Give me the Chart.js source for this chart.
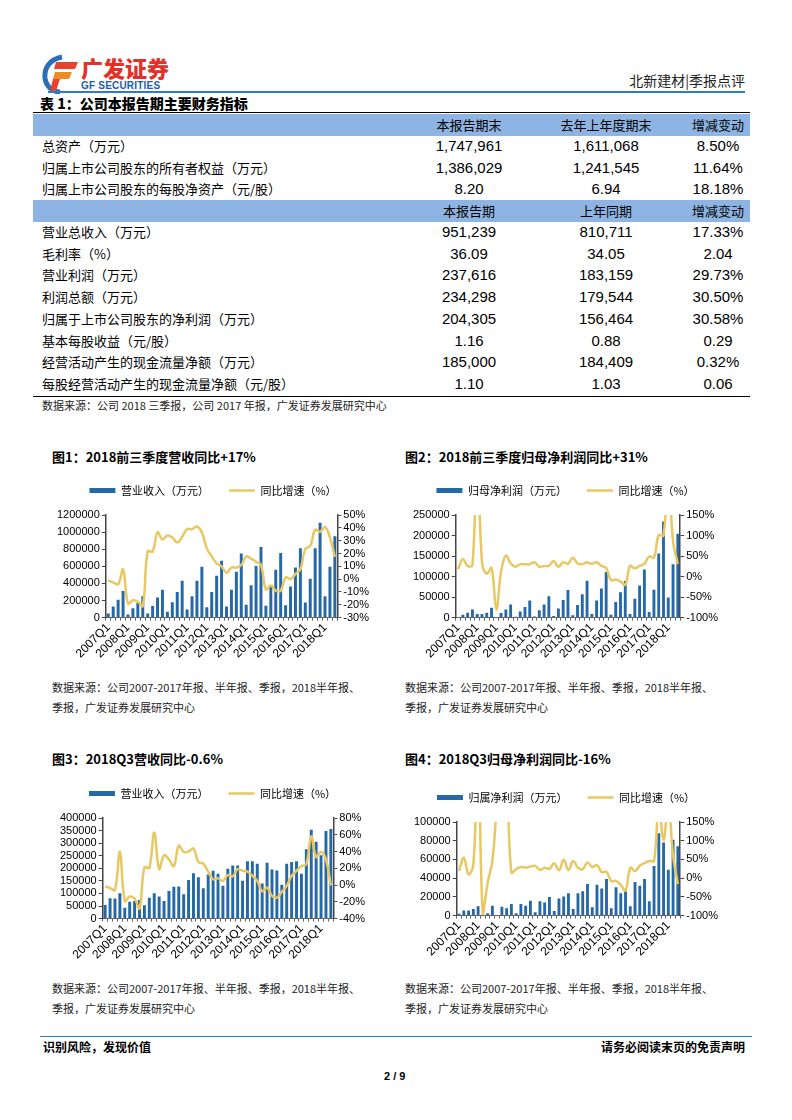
<!DOCTYPE html>
<html>
<head>
<meta charset="utf-8">
<script src="https://cdn.jsdelivr.net/npm/chart.js@4.4.0/dist/chart.umd.min.js"></script>
<style>
body { margin: 0; background: #fff; }
#page { position: relative; width: 792px; height: 1120px; overflow: hidden; font-family: "Noto Sans CJK SC", sans-serif; color: #000; }
.t { position: absolute; white-space: nowrap; line-height: 1; }
.num { font-family: "Liberation Sans Narrow", "Liberation Sans", sans-serif; font-size: 15px; transform: translateX(-50%); }
.lbl { font-size: 13px; left: 42px; }
.band { position: absolute; left: 33px; width: 717px; height: 22px; background: #8DB4E2; }
.hline { position: absolute; height: 0; }
.ctitle { font-size: 13px; font-weight: bold; }
.src { font-size: 11px; color: #222; }
canvas { position: absolute; }
</style>
</head>
<body>
<div id="page">
  <!-- header -->
  <svg class="t" style="left:42px;top:54px" width="40" height="40" viewBox="0 0 40 40">
    <path d="M20 3 C8 5 2 14 3 24 C4 32 10 38 18 38" fill="none" stroke="#2A6FB8" stroke-width="5"/>
    <path d="M14 8 L36 8 L33 15 L12 15 Z" fill="#E8412C"/>
    <path d="M13 18 L30 18 L27 25 L11 25 Z" fill="#F08A24"/>
    <path d="M11 25 L18 25 L14 37 L8 37 Z" fill="#E8412C"/>
  </svg>
  <div class="t" style="left:81px;top:56px;font-size:22px;font-weight:900;color:#E2302A">广发证券</div>
  <div class="t" style="left:81px;top:81px;font-size:10px;font-weight:bold;color:#1D5EA8;font-family:'Liberation Sans',sans-serif;letter-spacing:0.2px">GF SECURITIES</div>
  <div class="t" style="right:47px;top:73px;font-size:14px;color:#222">北新建材|季报点评</div>
  <div class="hline" style="left:48px;width:697px;top:91px;border-top:2px solid #2D7CC8"></div>

  <div class="t" style="left:40px;top:96px;font-size:14px;font-weight:900">表 1：公司本报告期主要财务指标</div>
  <div id="table"></div>

  <!-- charts -->
  <div class="t ctitle" style="left:52px;top:450px">图1：2018前三季度营收同比+17%</div>
  <div class="t ctitle" style="left:405px;top:450px">图2：2018前三季度归母净利润同比+31%</div>
  <canvas id="c1" width="318" height="196" style="left:55px;top:465px"></canvas>
  <canvas id="c2" width="311" height="196" style="left:411px;top:465px"></canvas>
  <div class="t src" style="left:52px;top:682px">数据来源：公司2007-2017年报、半年报、季报，2018半年报、</div>
  <div class="t src" style="left:52px;top:702px">季报，广发证券发展研究中心</div>
  <div class="t src" style="left:405px;top:682px">数据来源：公司2007-2017年报、半年报、季报，2018半年报、</div>
  <div class="t src" style="left:405px;top:702px">季报，广发证券发展研究中心</div>

  <div class="t ctitle" style="left:52px;top:752px">图3：2018Q3营收同比-0.6%</div>
  <div class="t ctitle" style="left:405px;top:752px">图4：2018Q3归母净利润同比-16%</div>
  <canvas id="c3" width="311" height="194" style="left:58px;top:768px"></canvas>
  <canvas id="c4" width="310" height="187" style="left:412px;top:772px"></canvas>
  <div class="t src" style="left:52px;top:983px">数据来源：公司2007-2017年报、半年报、季报，2018半年报、</div>
  <div class="t src" style="left:52px;top:1003px">季报，广发证券发展研究中心</div>
  <div class="t src" style="left:405px;top:983px">数据来源：公司2007-2017年报、半年报、季报，2018半年报、</div>
  <div class="t src" style="left:405px;top:1003px">季报，广发证券发展研究中心</div>

  <!-- footer -->
  <div class="hline" style="left:40px;width:712px;top:1036px;border-top:1px solid #2D7CC8"></div>
  <div class="t" style="left:43px;top:1041px;font-size:12px;font-weight:bold">识别风险，发现价值</div>
  <div class="t" style="right:47px;top:1041px;font-size:12px;font-weight:bold">请务必阅读末页的免责声明</div>
  <div class="t" style="left:384px;top:1071px;font-size:11px;font-weight:bold;font-family:'Liberation Sans',sans-serif">2 / 9</div>
</div>

<script>
// ---- table data ----
const head1 = ['本报告期末', '去年上年度期末', '增减变动'];
const rows1 = ['总资产（万元）', '归属上市公司股东的所有者权益（万元）', '归属上市公司股东的每股净资产（元/股）'];
const cur1 = ['1,747,961', '1,386,029', '8.20'];
const prev1 = ['1,611,068', '1,241,545', '6.94'];
const chg1 = ['8.50%', '11.64%', '18.18%'];

const head2 = ['本报告期', '上年同期', '增减变动'];
const rows2 = ['营业总收入（万元）', '毛利率（%）', '营业利润（万元）', '利润总额（万元）',
  '归属于上市公司股东的净利润（万元）', '基本每股收益（元/股）',
  '经营活动产生的现金流量净额（万元）', '每股经营活动产生的现金流量净额（元/股）'];
const cur2 = ['951,239', '36.09', '237,616', '234,298', '204,305', '1.16', '185,000', '1.10'];
const prev2 = ['810,711', '34.05', '183,159', '179,544', '156,464', '0.88', '184,409', '1.03'];
const chg2 = ['17.33%', '2.04', '29.73%', '30.50%', '30.58%', '0.29', '0.32%', '0.06'];

// ---- chart data ----
const quarters = [
  '2007Q1', '2007Q2', '2007Q3', '2007Q4', '2008Q1', '2008Q2', '2008Q3', '2008Q4',
  '2009Q1', '2009Q2', '2009Q3', '2009Q4', '2010Q1', '2010Q2', '2010Q3', '2010Q4',
  '2011Q1', '2011Q2', '2011Q3', '2011Q4', '2012Q1', '2012Q2', '2012Q3', '2012Q4',
  '2013Q1', '2013Q2', '2013Q3', '2013Q4', '2014Q1', '2014Q2', '2014Q3', '2014Q4',
  '2015Q1', '2015Q2', '2015Q3', '2015Q4', '2016Q1', '2016Q2', '2016Q3', '2016Q4',
  '2017Q1', '2017Q2', '2017Q3', '2017Q4', '2018Q1', '2018Q2', '2018Q3'
];

// fig1: cumulative revenue (万元) and yoy (%)
const revCum = [
  48000, 130000, 210000, 310000, 37000, 110000, 170000, 250000,
  48000, 135000, 235000, 325000, 70000, 180000, 300000, 430000,
  95000, 250000, 430000, 595000, 120000, 300000, 490000, 665000,
  130000, 325000, 535000, 750000, 150000, 380000, 605000, 825000,
  140000, 360000, 560000, 755000, 145000, 365000, 585000, 812000,
  178000, 455000, 810711, 1110000, 250000, 595000, 951239
];
const revCumYoy = [
  -1, -2.5, -4, 7.5, -19, -16.5, -17.5, -21,
  21.7, 21.5, 36.5, 31, 34, 32.5, 28.5, 33,
  39, 39, 41, 36.5, 24, 17.7, 12.3, 10,
  5, 9, 9, 11, 17.7, 16, 13.6, 11,
  -8, -5, -9, -9, 1.5, 0, 4, 7.7,
  23.6, 25.8, 38.5, 37, 40.5, 32.5, 17.33
];

// fig2: cumulative net profit attributable (万元) and yoy (%)
const npCum = [
  1000, 7000, 12000, 20000, 9000, 9000, 12000, 24000,
  1500, 11000, 20000, 32000, 2000, 15000, 26000, 42000,
  3000, 18000, 32000, 52000, 4000, 22000, 43000, 67000,
  6000, 31000, 57000, 90000, 9000, 42000, 71000, 111000,
  7000, 38000, 62000, 89000, 9000, 46000, 78000, 117000,
  14000, 68000, 156464, 234000, 49000, 130000, 204305
];
const npCumYoy = [
  18, 43, 26, 28, 300, 36, 7, 21,
  -80, 12, 51, 32, 24, 30, 30, 30,
  35, 24, 26, 26, 38, 24, 35, 31,
  46, 32, 30, 35, 31, 35, 26, 21,
  -9, -7, -12, -20, 26, 20, 26, 31,
  49, 46, 101, 100, 250, 86, 30.58
];

// fig3: single-quarter revenue (万元) and yoy (%)
const revQ = [
  54000, 81000, 80000, 101000, 43000, 67000, 70000, 74000,
  53000, 83000, 101000, 88000, 70000, 110000, 127000, 128000,
  97000, 154000, 180000, 164000, 121000, 175000, 190000, 178000,
  131000, 198000, 211000, 211000, 151000, 228000, 228000, 218000,
  140000, 222000, 195000, 191000, 135000, 218000, 225000, 228000,
  178000, 276000, 353000, 306000, 252000, 348000, 356000
];
const revQYoy = [
  -1.6, -3.6, -5.7, 39.6, -19, -13.7, -16, -28,
  21, 20.6, 62.6, 19, 35.5, 30.7, 22.6, 47,
  39.6, 40, 43.6, 27.5, 25.5, 16, 7, 8,
  5, 12, 10.5, 19, 17, 16, 11, 5,
  -7.5, -3, -13, -15, -8, -1, 11, 17,
  22.6, 25, 58, 33.5, 39.6, 30.7, -0.6
];

// fig4: single-quarter net profit attributable (万元) and yoy (%)
const npQ = [
  2000, 5500, 5500, 7000, 10000, 1000, 2500, 10600,
  500, 9500, 8000, 12500, 2500, 12500, 10600, 16000,
  3700, 15400, 14000, 20000, 5000, 18300, 20500, 24000,
  7000, 24000, 26000, 33700, 9000, 33000, 29000, 39000,
  8000, 30400, 24000, 26700, 10000, 36000, 32000, 39000,
  15400, 53000, 88000, 78000, 49000, 81000, 74000
];
const npQYoy = [
  19, 55, 10, 37, 320, -96, -13, 46,
  200, 300, 250, 15, 24, 30, 28, 31,
  33, 22, 28, 25, 40, 21, 49, 22,
  46, 28, 24, 42, 30, 35, 16, 17,
  -8, -7, -18, -33, 28, 19, 33, 40,
  46, 46, 200, 101, 200, 60, -16
];

// ---- build table ----
const table = document.getElementById('table');
const colX = [469, 606, 718];

function addText(txt, cls, left, top) {
  const d = document.createElement('div');
  d.className = 't ' + cls;
  d.textContent = txt;
  if (left !== null) d.style.left = left + 'px';
  d.style.top = top + 'px';
  table.appendChild(d);
}

function addBand(top, heads) {
  const b = document.createElement('div');
  b.className = 'band';
  b.style.top = top + 'px';
  table.appendChild(b);
  heads.forEach((h, i) => {
    const d = document.createElement('div');
    d.className = 't';
    d.style.cssText = `left:${colX[i]}px;top:${top + 4}px;font-size:13px;transform:translateX(-50%)`;
    d.textContent = h;
    table.appendChild(d);
  });
}

function addRows(top, labels, a, b, c) {
  labels.forEach((l, i) => {
    const y = top + i * 21.7;
    addText(l, 'lbl', null, y);
    [a, b, c].forEach((col, j) => addText(col[i], 'num', colX[j], y - 1));
  });
}

function addRule(top) {
  const r = document.createElement('div');
  r.className = 'hline';
  r.style.cssText = `left:33px;width:717px;top:${top}px;border-top:1.5px solid #000`;
  table.appendChild(r);
}

addRule(112);
addBand(114, head1);
addRows(139, rows1, cur1, prev1, chg1);
addBand(200, head2);
addRows(225, rows2, cur2, prev2, chg2);
addRule(396);
addText('数据来源：公司 2018 三季报，公司 2017 年报，广发证券发展研究中心', 'src', 42, 400);

// ---- charts ----
const BAR_COLOR = '#2468A8';
const LINE_COLOR = '#E8C862';
const TICK_FONT = { family: '"Liberation Sans"', size: 11 };

// push the plot area down a little below the legend
const legendGap = {
  id: 'legendGap',
  beforeInit(chart, args, opts) {
    const fit = chart.legend.fit;
    chart.legend.fit = function () {
      fit.bind(chart.legend)();
      this.height += opts.gap || 0;
    };
  }
};

function makeChart(id, bars, line, barLabel, yMax, yStep, rMin, rMax, rStep) {
  const ctx = document.getElementById(id);
  return new Chart(ctx, {
    type: 'bar',
    data: {
      labels: quarters,
      datasets: [{
        type: 'bar',
        label: barLabel,
        data: bars,
        backgroundColor: BAR_COLOR,
        barPercentage: 0.6,
        categoryPercentage: 1,
        pointStyle: 'rect',
        yAxisID: 'y',
        order: 1
      }, {
        type: 'line',
        label: '同比增速（%）',
        data: line,
        borderColor: LINE_COLOR,
        backgroundColor: LINE_COLOR,
        borderWidth: 2.5,
        pointRadius: 0,
        pointStyle: 'line',
        tension: 0.4,
        yAxisID: 'y1',
        order: 0
      }]
    },
    options: {
      responsive: false,
      animation: false,
      layout: { padding: { left: 0, right: 2, top: 0, bottom: 0 } },
      plugins: {
        legend: {
          position: 'top',
          labels: {
            usePointStyle: true,
            pointStyleWidth: 26,
            boxHeight: 5,
            padding: 20,
            color: '#000',
            font: { family: '"Noto Sans CJK SC"', size: 11 },
            sort: (a, b) => a.datasetIndex - b.datasetIndex
          }
        },
        legendGap: { gap: 9 },
        tooltip: { enabled: false }
      },
      scales: {
        x: {
          grid: { drawOnChartArea: false, drawTicks: true, tickLength: 3, color: '#666' },
          border: { color: '#666', width: 1 },
          ticks: {
            autoSkip: false,
            maxRotation: 45,
            minRotation: 45,
            padding: 0,
            color: '#000',
            font: { family: '"Liberation Sans"', size: 12 },
            callback: function (v, i) { return i % 4 === 0 ? quarters[i] : ''; }
          }
        },
        y: {
          position: 'left',
          min: 0,
          max: yMax,
          grid: { drawOnChartArea: false, drawTicks: true, tickLength: 4, color: '#444' },
          border: { color: '#444', width: 1.5 },
          ticks: {
            stepSize: yStep,
            autoSkip: false,
            padding: 2,
            color: '#000',
            font: TICK_FONT,
            callback: v => String(v)
          }
        },
        y1: {
          position: 'right',
          min: rMin,
          max: rMax,
          grid: { drawOnChartArea: false, drawTicks: true, tickLength: 4, color: '#444' },
          border: { color: '#444', width: 1.5 },
          ticks: {
            stepSize: rStep,
            autoSkip: false,
            padding: 2,
            color: '#000',
            font: TICK_FONT,
            callback: v => v + '%'
          }
        }
      }
    },
    plugins: [legendGap]
  });
}

makeChart('c1', revCum, revCumYoy, '营业收入（万元）', 1200000, 200000, -30, 50, 10);
makeChart('c2', npCum, npCumYoy, '归母净利润（万元）', 250000, 50000, -100, 150, 50);
makeChart('c3', revQ, revQYoy, '营业收入（万元）', 400000, 50000, -40, 80, 20);
makeChart('c4', npQ, npQYoy, '归属净利润（万元）', 100000, 20000, -100, 150, 50);
</script>
</body>
</html>
